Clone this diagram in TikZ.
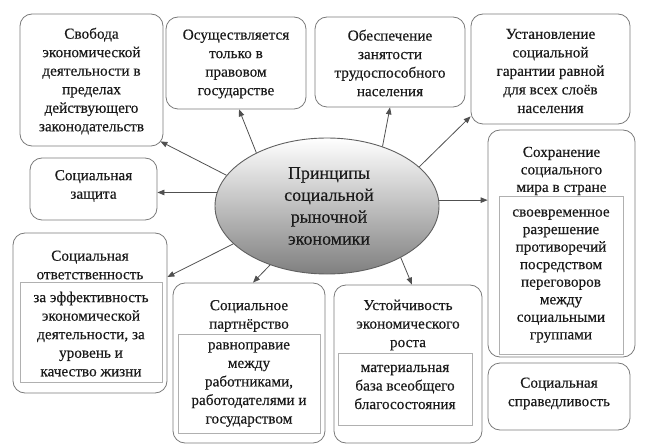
\documentclass[tikz,border=0pt]{standalone}
\usepackage{fontspec}
\setmainfont{LiberationSerif}[Extension=.ttf,UprightFont=*-Regular,BoldFont=*-Bold,ItalicFont=*-Italic,BoldItalicFont=*-BoldItalic,FakeBold=0.4]
\usetikzlibrary{shapes.geometric,arrows.meta,calc}
\definecolor{boxline}{HTML}{7A7A7A}
\definecolor{inline}{HTML}{B0B0B0}
\definecolor{arrcol}{HTML}{505050}
\definecolor{ellline}{HTML}{606060}
\definecolor{txtcol}{HTML}{1A1A1A}
\begin{document}
\begin{tikzpicture}[x=1bp,y=-1bp,
  box/.style={draw=boxline, line width=0.8bp, rounded corners=12bp, inner sep=0pt},
  inbox/.style={draw=inline, line width=0.6bp, inner sep=0pt},
  txt/.style={font=\fontsize{15.3}{18.6}\selectfont, align=center, inner sep=0pt, text=txtcol},
  tight/.style={font=\fontsize{15.3}{17.6}\selectfont},
  arr/.style={draw=arrcol, line width=0.8bp, -{Triangle[length=7bp,width=5.5bp]}}]
\useasboundingbox (0,0) rectangle (648,448);

% boxes
\node[box, minimum width=143bp, minimum height=132bp] (b1) at (91.5,80) {};
\node[txt] (t1) at ($(b1)+(0,1)$) {Свобода\\экономической\\деятельности в\\пределах\\действующего\\законодательств};

\node[box, minimum width=140bp, minimum height=92bp] (b2) at (236,63) {};
\node[txt] (t2) at ($(b2)+(0,1)$) {Осуществляется\\только в\\правовом\\государстве};

\node[box, minimum width=150bp, minimum height=90bp] (b3) at (390,62) {};
\node[txt] (t3) at ($(b3)+(0,1)$) {Обеспечение\\занятости\\трудоспособного\\населения};

\node[box, minimum width=159bp, minimum height=110bp] (b4) at (550.5,69) {};
\node[txt] (t4) at ($(b4)+(0,2)$) {Установление\\социальной\\гарантии равной\\для всех слоёв\\населения};

\node[box, minimum width=147bp, minimum height=227bp] (b5) at (561.5,243.5) {};
\node[txt, tight] (t5) at (561.5,171) {Сохранение\\социального\\мира в стране};
\node[inbox, minimum width=124bp, minimum height=158bp] (i5) at (561,275) {};
\node[txt, tight] (u5) at ($(i5)+(0,1)$) {своевременное\\разрешение\\противоречий\\посредством\\переговоров\\между\\социальными\\группами};

\node[box, minimum width=142bp, minimum height=67bp] (b6) at (559,396.5) {};
\node[txt] (t6) at ($(b6)+(0,-3)$) {Социальная\\справедливость};

\node[box, minimum width=148bp, minimum height=158bp] (b7) at (408,364) {};
\node[txt] (t7) at (408,325) {Устойчивость\\экономического\\роста};
\node[inbox, minimum width=134bp, minimum height=72bp] (i7) at (405,389) {};
\node[txt] (u7) at ($(i7)+(0,-2)$) {материальная\\база всеобщего\\благосостояния};

\node[box, minimum width=152bp, minimum height=160bp] (b8) at (249,363) {};
\node[txt] (t8) at (249,316) {Социальное\\партнёрство};
\node[inbox, minimum width=142bp, minimum height=99bp] (i8) at (249,383.5) {};
\node[txt] (u8) at ($(i8)+(0,1)$) {равноправие\\между\\работниками,\\работодателями и\\государством};

\node[box, minimum width=154bp, minimum height=160bp] (b9) at (90,313) {};
\node[txt] (t9) at (90,265) {Социальная\\ответственность};
\node[inbox, minimum width=142bp, minimum height=100bp] (i9) at (91,332) {};
\node[txt] (u9) at ($(i9)+(0,2)$) {за эффективность\\экономической\\деятельности, за\\уровень и\\качество жизни};

\node[box, minimum width=127bp, minimum height=62bp] (b10) at (93.5,189) {};
\node[txt] (t10) at ($(b10)+(0,-3)$) {Социальная\\защита};

% central ellipse
\node[ellipse, draw=ellline, line width=0.9bp, top color=white, bottom color=black!50,
      minimum width=224bp, minimum height=136bp, inner sep=0pt] (ell) at (327,206) {};
\node[txt, font=\fontsize{18}{22}\selectfont] (te) at ($(ell)+(2,0)$) {Принципы\\социальной\\рыночной\\экономики};

% connectors
\draw[arr] (ell.163) -- ($(b1.south east)+(-3,-5)$);
\draw[arr] (ell.143) -- ($(b2.south)+(3,0)$);
\draw[arr] (ell.47) -- (b3.south);
\draw[arr] (ell.23) -- ($(b4.south west)+(0,-8)$);
\draw[arr] (ell.3) -- (ell.3 -| b5.west);
\draw[arr] (ell.173) -- (ell.173 -| b10.east);
\draw[arr] (ell.202) -- ($(b9.east)+(0,-36)$);
\draw[arr] (ell.226) -- ($(b8.north)+(4,0)$);
\draw[arr] (ell.325) -- ($(b7.north)+(4,0)$);
\end{tikzpicture}
\end{document}
